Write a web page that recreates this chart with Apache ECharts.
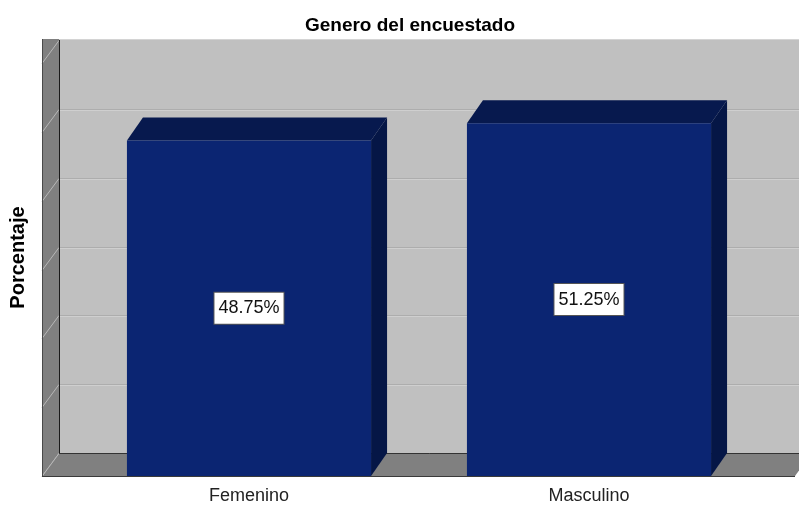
<!DOCTYPE html>
<html>
<head>
<meta charset="utf-8">
<style>
  html, body { margin: 0; padding: 0; background: #ffffff; }
  #chart { width: 799px; height: 505px; }
</style>
<script src="https://cdn.jsdelivr.net/npm/echarts@6/dist/echarts.min.js"></script>
</head>
<body>
<div id="chart"></div>
<script>
// ---- data ----
const categories = ['Femenino', 'Masculino'];
const percentages = [48.75, 51.25];
const yTicks = [0, 10, 20, 30, 40, 50, 60];
const titleText = 'Genero del encuestado';
const yName = 'Porcentaje';

// ---- styling constants ----
const FONT = '"Liberation Sans", Arial, sans-serif';
const DX = 16, DY = 23;          // 3D depth offset (px)
const BAR_RATIO = 0.718;         // bar width / band width
const WALL_LEFT_EXT = 36;        // back wall extends left of grid
const WALL_RIGHT_EXT = 37;       // back wall extends right of grid
const WALL_TOP_EXT = 1;          // back wall extends above grid
const COLORS = {
  backWall: '#c0c0c0',
  sideWall: '#808080',
  grid: '#adadad',
  gridLight: '#cfcfcf',
  edge: '#1a1a1a',
  front: '#0b2572',
  top: '#07194e',
  side: '#051646'
};

const chart = echarts.init(document.getElementById('chart'), null, { renderer: 'canvas' });

function renderWalls(params, api) {
  const cs = params.coordSys;
  const left = cs.x - WALL_LEFT_EXT;
  const right = cs.x + cs.width + WALL_RIGHT_EXT;
  const top = cs.y - WALL_TOP_EXT;
  const bottom = cs.y + cs.height;
  const children = [];
  // back wall
  children.push({ type: 'rect', shape: { x: left, y: top, width: right - left, height: bottom - top },
    style: { fill: COLORS.backWall } });
  // left wall
  children.push({ type: 'polygon', shape: { points: [[left - DX - 1, top], [left, top], [left, bottom], [left - DX - 1, bottom + DY]] },
    style: { fill: COLORS.sideWall } });
  // floor
  children.push({ type: 'polygon', shape: { points: [[left, bottom], [right, bottom], [right - DX - 1, bottom + DY], [left - DX - 1, bottom + DY]] },
    style: { fill: COLORS.sideWall } });
  // grid lines on back wall + diagonal ticks on left wall
  yTicks.forEach(function (v) {
    const y = Math.round(api.coord([0, v])[1]) + 0.5;
    if (v > 0 && v < yTicks[yTicks.length - 1]) {
      children.push({ type: 'line', shape: { x1: left, y1: y, x2: right, y2: y },
        style: { stroke: COLORS.grid, lineWidth: 1 } });
      children.push({ type: 'line', shape: { x1: left, y1: y + 1, x2: right, y2: y + 1 },
        style: { stroke: COLORS.gridLight, lineWidth: 1 } });
    }
    children.push({ type: 'line', shape: { x1: left, y1: y, x2: left - DX - 1, y2: y + DY },
      style: { stroke: '#b8b8b8', lineWidth: 1 } });
  });
  // edges
  children.push({ type: 'line', shape: { x1: left + 0.5, y1: top, x2: left + 0.5, y2: bottom },
    style: { stroke: COLORS.edge, lineWidth: 1 } });
  children.push({ type: 'line', shape: { x1: left, y1: bottom + 0.5, x2: right, y2: bottom + 0.5 },
    style: { stroke: '#333333', lineWidth: 1 } });
  children.push({ type: 'line', shape: { x1: left - DX - 1, y1: bottom + DY + 0.5, x2: right - DX - 1, y2: bottom + DY + 0.5 },
    style: { stroke: '#3a3a3a', lineWidth: 1.2 } });
  children.push({ type: 'line', shape: { x1: left - DX - 0.5, y1: top, x2: left - DX - 0.5, y2: bottom + DY },
    style: { stroke: '#4a4a4a', lineWidth: 1 } });
  children.push({ type: 'line', shape: { x1: left, y1: top + 0.5, x2: right, y2: top + 0.5 },
    style: { stroke: '#d4d4d4', lineWidth: 1 } });
  return { type: 'group', children: children };
}

function renderBar(params, api) {
  const idx = api.value(0);
  const val = api.value(1);
  const topPt = api.coord([idx, val]);
  const basePt = api.coord([idx, 0]);
  const w = api.size([1, 0])[0] * BAR_RATIO;
  const xL = topPt[0] - w / 2, xR = topPt[0] + w / 2;
  const yT = topPt[1], yB = basePt[1];
  return {
    type: 'group',
    children: [
      { type: 'polygon', shape: { points: [[xR - DX, yT + DY], [xR, yT], [xR, yB], [xR - DX, yB + DY]] },
        style: { fill: COLORS.side } },
      { type: 'polygon', shape: { points: [[xL - DX, yT + DY], [xL, yT], [xR, yT], [xR - DX, yT + DY]] },
        style: { fill: COLORS.top } },
      { type: 'rect', shape: { x: xL - DX, y: yT + DY, width: w, height: yB - yT },
        style: { fill: COLORS.front } },
      { type: 'text', x: (xL + xR) / 2 - DX, y: (yT + yB) / 2 + DY,
        style: {
          text: val.toFixed(2) + '%', fill: '#111111', fontFamily: FONT, fontSize: 18,
          align: 'center', verticalAlign: 'middle',
          backgroundColor: '#ffffff', borderColor: '#555555', borderWidth: 1,
          padding: [7, 4, 6, 4]
        } }
    ]
  };
}

const option = {
  animation: false,
  backgroundColor: '#ffffff',
  title: {
    text: titleText, left: 405, top: 11, textAlign: 'center',
    textStyle: { fontFamily: FONT, fontSize: 19, fontWeight: 'bold', color: '#000000' }
  },
  grid: { left: 95, right: 24, top: 40, bottom: 51, containLabel: false },
  xAxis: {
    type: 'category', data: categories,
    axisLine: { show: false }, axisTick: { show: false }, splitLine: { show: false },
    axisLabel: { margin: 34, fontFamily: FONT, fontSize: 18, color: '#222222', padding: [0, 2 * DX, 0, 0] }
  },
  yAxis: {
    type: 'value', min: 0, max: 60, interval: 10,
    name: yName, nameLocation: 'middle', nameRotate: 90, nameGap: 67,
    nameTextStyle: { fontFamily: FONT, fontSize: 20, fontWeight: 'bold', color: '#000000', padding: [0, 22, 0, 0] },
    axisLine: { show: false }, axisTick: { show: false }, axisLabel: { show: false }, splitLine: { show: false }
  },
  series: [
    { type: 'custom', renderItem: renderWalls, data: [[0, 0]], silent: true, z: 1, clip: false },
    { type: 'custom', renderItem: renderBar, data: percentages.map(function (v, i) { return [i, v]; }),
      encode: { x: 0, y: 1 }, z: 2, clip: false }
  ]
};
chart.setOption(option);
</script>
</body>
</html>
